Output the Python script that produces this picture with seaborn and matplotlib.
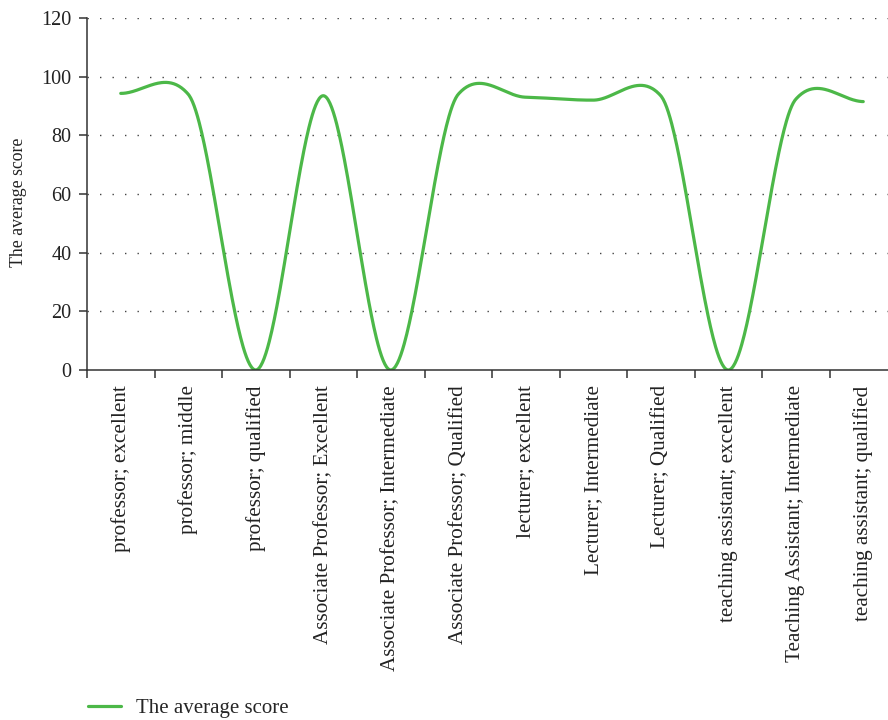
import numpy as np
import pandas as pd
import matplotlib
matplotlib.use("Agg")
import matplotlib.pyplot as plt
from matplotlib.lines import Line2D
import seaborn as sns

categories = [
    "professor; excellent",
    "professor; middle",
    "professor; qualified",
    "Associate Professor; Excellent",
    "Associate Professor; Intermediate",
    "Associate Professor; Qualified",
    "lecturer; excellent",
    "Lecturer; Intermediate",
    "Lecturer; Qualified",
    "teaching assistant; excellent",
    "Teaching Assistant; Intermediate",
    "teaching assistant; qualified",
]
scores = [94.3, 94.0, 0.0, 93.5, 0.0, 94.0, 93.0, 92.0, 93.5, 0.0, 92.3, 91.5]
y_ticks = [0, 20, 40, 60, 80, 100, 120]
series_name = "The average score"


def smooth_curve(values, tension=0.57, samples=80):
    """Cardinal (Hermite) spline through the points at x = 0..n-1."""
    y = np.asarray(values, float)
    n = len(y)
    m = np.empty(n)
    m[1:-1] = tension * (y[2:] - y[:-2]) / 2
    m[0] = tension * (y[1] - y[0])
    m[-1] = tension * (y[-1] - y[-2])
    xs, ys = [], []
    for i in range(n - 1):
        t = np.linspace(0, 1, samples, endpoint=(i == n - 2))
        h00 = 2 * t**3 - 3 * t**2 + 1
        h10 = t**3 - 2 * t**2 + t
        h01 = -2 * t**3 + 3 * t**2
        h11 = t**3 - t**2
        xs.append(i + t)
        ys.append(h00 * y[i] + h10 * m[i] + h01 * y[i + 1] + h11 * m[i + 1])
    return np.concatenate(xs), np.concatenate(ys)


sns.set_theme(style="white")
plt.rcParams["font.family"] = ["Liberation Serif", "DejaVu Serif"]

green = "#4cb848"
axis_col = "#333333"
text_col = "#222222"

fig = plt.figure(figsize=(8.88, 7.2), dpi=100)
ax = fig.add_axes([87 / 888, 350 / 720, 810 / 888, 352 / 720])

cx, cy = smooth_curve(scores)
df = pd.DataFrame({"pos": cx, "score": cy})
sns.lineplot(data=df, x="pos", y="score", ax=ax, color=green, linewidth=2.3,
             sort=False, estimator=None, legend=False)

ax.set_xlim(-0.5, len(categories) - 0.5)
ax.set_ylim(0, 120)
ax.set_yticks(y_ticks)
ax.set_yticklabels([str(v) for v in y_ticks])

# boundaries get the tick marks, centres carry the labels
ax.set_xticks(np.arange(-0.5, len(categories), 1.0))
ax.set_xticklabels([])
ax.set_xticks(np.arange(len(categories)), minor=True)
ax.set_xticklabels(categories, minor=True, rotation=90, fontsize=15.2)
ax.tick_params(axis="x", which="major", direction="out", length=6, width=1.1,
               color=axis_col, bottom=True)
ax.tick_params(axis="x", which="minor", length=0, pad=11, colors=text_col,
               bottom=True)
ax.tick_params(axis="y", direction="out", length=6, width=1.1, color=axis_col,
               labelsize=14.5, labelcolor=text_col, pad=5, left=True)

for y in y_ticks[1:]:
    ax.axhline(y, color="#444444", linewidth=1.0, linestyle=(0, (1, 8)),
               zorder=0)

for side in ("top", "right"):
    ax.spines[side].set_visible(False)
for side in ("left", "bottom"):
    ax.spines[side].set_color(axis_col)
    ax.spines[side].set_linewidth(1.1)

ax.set_xlabel("")
ax.set_ylabel(series_name, fontsize=12.8, color=text_col)
ax.yaxis.set_label_coords(-0.074, 0.475)

handle = Line2D([], [], color=green, linewidth=2.3)
fig.legend([handle], [series_name], loc="center left",
           bbox_to_anchor=(69 / 888, 1 - 708 / 720), frameon=False,
           fontsize=15, handlelength=1.6, handletextpad=0.72)

fig.savefig("out.png", dpi=100)
